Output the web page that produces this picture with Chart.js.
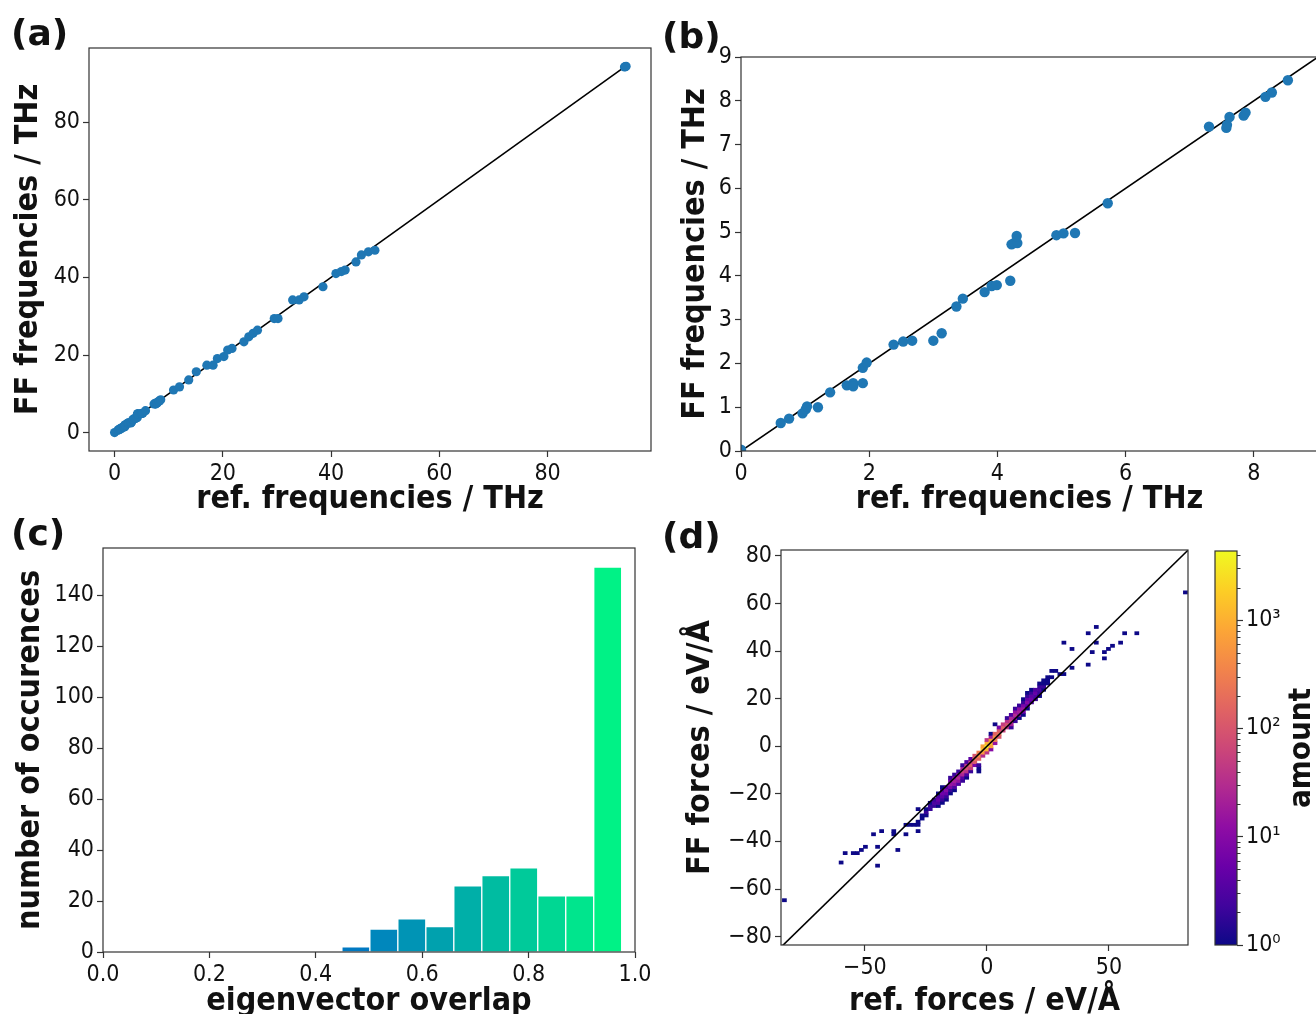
<!DOCTYPE html>
<html><head><meta charset="utf-8"><title>Force field validation</title>
<script src="https://cdn.jsdelivr.net/npm/chart.js@4.4.1/dist/chart.umd.min.js"></script>
<style>
html,body{margin:0;padding:0;background:#fff;overflow:hidden;}
body{position:relative;width:1316px;height:1014px;}
canvas{position:absolute;}
.lab{position:absolute;font-family:'DejaVu Sans',sans-serif;font-weight:bold;font-size:36px;line-height:1;color:#111;}
</style></head><body>
<canvas id="ca" width="660" height="480" style="left:0;top:40px"></canvas>
<canvas id="cb" width="680" height="480" style="left:660px;top:40px"></canvas>
<canvas id="cc" width="660" height="510" style="left:0;top:530px"></canvas>
<canvas id="cd" width="540" height="510" style="left:660px;top:530px"></canvas>
<canvas id="ce" width="116" height="484" style="left:1200px;top:530px"></canvas>
<div class="lab" style="left:11px;top:15px">(a)</div>
<div class="lab" style="left:662px;top:18px">(b)</div>
<div class="lab" style="left:11px;top:515px">(c)</div>
<div class="lab" style="left:662px;top:518px">(d)</div>
<script>
// ---------------- data ----------------
const refFreq = [0.00,0.62,0.75,0.96,1.01,1.03,1.20,1.39,1.65,1.75,1.75,1.90,1.90,1.96,2.38,2.53,2.67,3.00,3.13,3.36,3.46,3.80,3.91,3.99,4.20,4.22,4.26,4.31,4.30,4.92,5.03,5.21,5.72,7.30,7.57,7.58,7.62,7.84,7.87,8.18,8.28,8.53,
  10.9,12.0,13.7,15.1,17.05,18.2,19.0,20.2,20.9,21.7,23.9,24.8,25.6,26.4,29.5,30.2,32.9,34.1,35.0,38.5,40.9,41.9,42.6,44.6,45.6,46.9,48.1,94.2,94.35,94.5];
const ffFreq = [0.03,0.64,0.74,0.86,0.95,1.02,1.00,1.34,1.50,1.55,1.48,1.55,1.90,2.02,2.43,2.50,2.52,2.52,2.69,3.30,3.48,3.63,3.77,3.79,3.89,4.72,4.75,4.75,4.91,4.93,4.97,4.98,5.66,7.41,7.38,7.45,7.63,7.66,7.73,8.09,8.19,8.47,
  11.0,11.8,13.6,15.7,17.4,17.4,19.1,19.6,21.3,21.7,23.4,24.7,25.6,26.4,29.4,29.4,34.2,34.2,35.0,37.6,41.0,41.5,41.9,44.0,45.8,46.6,47.0,94.2,94.3,94.4];
const freqDiag = [0, 94.3];
const freqTicksA = [0,20,40,60,80];
const freqTicksBx = [0,2,4,6,8];
const freqTicksBy = [0,1,2,3,4,5,6,7,8,9];

const overlapEdges = [0.449,0.5016,0.5542,0.6068,0.6594,0.712,0.7646,0.8172,0.8698,0.9224,0.975];
const overlapCounts = [2,9,13,10,26,30,33,22,22,151];
const overlapTicksX = [0,0.2,0.4,0.6,0.8,1.0];
const overlapTicksY = [0,20,40,60,80,100,120,140];

// 2D histogram of forces: column centres (ref), cell centres (FF) and counts
const forceBinW = 1.66, forceBinH = 1.32;
const forceColX = [-83.00,-59.76,-58.10,-54.78,-53.12,-51.46,-49.80,-46.48,-44.82,-43.16,-38.18,-36.52,-33.20,-31.54,-29.88,-28.22,-26.56,-24.90,-23.24,-21.58,-19.92,-18.26,-16.60,-14.94,-13.28,-11.62,-9.96,-8.30,-6.64,-4.98,-3.32,-1.66,0,1.66,3.32,4.98,6.64,8.30,9.96,11.62,13.28,14.94,16.60,18.26,19.92,21.58,23.24,24.90,26.56,28.22,29.88,31.54,34.86,41.50,43.16,44.82,48.14,49.80,51.46,54.78,56.44,61.42,81.34];
const forceColY = [
  [-64.68],[-48.84],[-44.88],[-44.88],[-44.88],[-43.56],[-42.24],[-36.96],[-42.24,-50.16],[-35.64],
  [-35.64,-36.96],[-43.56],[-36.96,-33.00],[-33.00],[-33.00],[-35.64,-33.00,-31.68,-26.40],[-30.36,-29.04],
  [-29.04,-27.72,-26.40],[-26.40,-25.08,-23.76],[-25.08,-23.76,-22.44],[-25.08,-23.76,-22.44,-21.12,-19.80],
  [-23.76,-22.44,-21.12,-19.80,-18.48,-17.16],[-22.44,-21.12,-19.80,-18.48,-17.16],[-19.80,-18.48,-17.16,-15.84,-14.52,-13.20],
  [-18.48,-17.16,-15.84,-14.52,-13.20,-11.88],[-15.84,-14.52,-13.20,-11.88,-10.56],[-14.52,-13.20,-11.88,-10.56,-9.24,-7.92],
  [-13.20,-11.88,-10.56,-9.24,-7.92,-6.60],[-10.56,-9.24,-7.92,-6.60,-5.28],[-7.92,-6.60,-5.28,-3.96],
  [-10.56,-9.24,-7.92,-5.28,-3.96,-2.64],[-3.96,-2.64,-1.32,0],[-2.64,-1.32,0,1.32,2.64],
  [-1.32,0,1.32,2.64,3.96,5.28],[1.32,2.64,3.96,5.28,9.24],[3.96,5.28,6.60,7.92],[6.60,7.92,9.24],
  [7.92,9.24,10.56,11.88],[7.92,9.24,10.56,11.88,13.20],[10.56,11.88,13.20,14.52,15.84],[11.88,13.20,14.52,15.84,17.16],
  [13.20,14.52,15.84,17.16,18.48,19.80],[15.84,17.16,18.48,19.80,21.12,22.44],[18.48,19.80,21.12,22.44,23.76],[19.80,21.12,22.44,23.76],
  [21.12,22.44,23.76,25.08,26.40],[23.76,25.08,26.40,27.72],[26.40,27.72,29.04],[29.04,31.68],[31.68],[30.36],
  [30.36,43.56],[33.00,40.92],[34.32,47.52],[39.60],[43.56,50.16],[36.96,39.60],[40.92],[42.24],[43.56],[47.52],[47.52],[64.68]
];
const forceColN = [
  [1],[1],[1],[1],[1],[1],[1],[1],[1,1],[1],
  [1,1],[1],[1,1],[1],[1],[1,1,1,1],[1,1],
  [1,2,1],[2,2,1],[2,3,2],[1,3,5,3,1],
  [1,2,4,6,3,1],[1,2,5,10,4],[1,2,8,15,6,2],
  [1,3,12,22,10,2],[3,14,30,15,2],[2,4,25,55,20,2],
  [1,3,35,90,40,3],[2,50,140,60,4],[8,120,230,100],
  [1,1,2,150,450,300],[30,600,1400,700],[40,1000,4300,1000,40],
  [10,700,1400,600,20,1],[15,300,450,150,1],[100,230,120,8],[60,140,50],
  [40,90,35,2],[2,20,55,25,3],[2,15,30,14,2],[1,10,22,12,2],
  [1,6,15,8,2,1],[1,4,10,5,2,1],[3,6,4,2,1],[2,3,5,3],
  [1,2,3,2,1],[1,2,1,1],[1,1,1],[1,1],[1],[1],
  [1,1],[1,1],[1,1],[1],[1,1],[1,1],[1],[1],[1],[1],[1],[1]
];
const forceDiag = [-90, 90];
const forceTicksX = [-50,0,50];
const forceTicksY = [-80,-60,-40,-20,0,20,40,60,80];
const amountMin = 1, amountMax = 4350;
const amountTicks = [1,10,100,1000];
const amountLabels = ['10\u2070','10\u00b9','10\u00b2','10\u00b3'];

// ---------------- helpers ----------------
const FONT = "'DejaVu Sans Condensed','Liberation Sans Narrow','DejaVu Sans',sans-serif";
Chart.defaults.font.family = FONT;
Chart.defaults.color = '#111';
Chart.defaults.animation = false;
Chart.defaults.plugins.legend.display = false;
Chart.defaults.plugins.tooltip.enabled = false;

const PLASMA = ['#0d0887','#41049d','#6a00a8','#8f0da4','#b12a90','#cc4778','#e16462','#f2844b','#fca636','#fcce25','#f0f921'];
function hex2rgb(h){return [parseInt(h.slice(1,3),16),parseInt(h.slice(3,5),16),parseInt(h.slice(5,7),16)];}
function plasma(t){
  t = Math.max(0, Math.min(1, t));
  const s = t*(PLASMA.length-1), i = Math.min(PLASMA.length-2, Math.floor(s)), f = s-i;
  const a = hex2rgb(PLASMA[i]), b = hex2rgb(PLASMA[i+1]);
  return 'rgb('+a.map((v,k)=>Math.round(v+(b[k]-v)*f)).join(',')+')';
}
function winter(v){ return 'rgb(0,'+Math.round(255*v)+','+Math.round(255*(1-0.5*v))+')'; }
const minus = v => (v < 0 ? '\u2212' : '') + Math.abs(v);

const framePlugin = {
  id:'frame',
  afterDraw(chart){
    const {ctx, chartArea:a} = chart;
    ctx.save(); ctx.strokeStyle='#333'; ctx.lineWidth=1.2;
    ctx.strokeRect(a.left, a.top, a.right-a.left, a.bottom-a.top); ctx.restore();
  }
};
function zeroPad(s){ s.paddingTop = 0; s.paddingBottom = 0; s.paddingLeft = 0; s.paddingRight = 0; }

function axis(o){
  return {
    type:o.type||'linear', position:o.position, min:o.min, max:o.max, offset:false,
    afterBuildTicks: s => { s.ticks = o.ticks.map(v => ({value:v})); },
    afterFit: s => { if (o.position==='bottom') s.height = o.size; else s.width = o.size; zeroPad(s); },
    grid:{display:true, drawOnChartArea:false, drawTicks:true, tickLength:6, tickWidth:1.2, tickColor:'#333', offset:false},
    border:{display:false},
    ticks:{autoSkip:false, maxRotation:0, minRotation:0, padding:3, color:'#111', font:{size:23}, callback:o.fmt||minus},
    title:{display:!!o.title, text:o.title, color:'#111', font:{size:32, weight:'bold'},
      padding: o.position==='bottom' ? {top:0,bottom:o.tpad} : {top:o.tpad,bottom:0}}
  };
}

const freqPoints = refFreq.map((r,i)=>({x:r, y:ffFreq[i]}));
function freqChart(id, pad, xo, yo, rad){
  return new Chart(document.getElementById(id), {
    type:'scatter',
    data:{datasets:[
      {type:'scatter', data:freqPoints, pointRadius:rad, pointHoverRadius:rad, backgroundColor:'#1f77b4', borderWidth:0, order:0},
      {type:'line', data:freqDiag.map(v=>({x:v,y:v})), borderColor:'#000', borderWidth:1.6, pointRadius:0, fill:false, order:1}
    ]},
    options:{responsive:false, layout:{padding:pad}, scales:{x:axis(xo), y:axis(yo)}},
    plugins:[framePlugin]
  });
}

// (a)
freqChart('ca', {top:8,right:9,left:0,bottom:0},
  {position:'bottom', min:-4.72, max:99.1, ticks:freqTicksA, size:69, title:'ref. frequencies / THz', tpad:1},
  {position:'left', min:-4.72, max:99.1, ticks:freqTicksA, size:89, title:'FF frequencies / THz', tpad:9}, 4.6);
// (b)
freqChart('cb', {top:17,right:22,left:0,bottom:0},
  {position:'bottom', min:0, max:9, ticks:freqTicksBx, size:69, title:'ref. frequencies / THz', tpad:1},
  {position:'left', min:0, max:9, ticks:freqTicksBy, size:81, title:'FF frequencies / THz', tpad:16}, 5.2);

// (c)
const overlapCenters = overlapCounts.map((c,i)=>(overlapEdges[i]+overlapEdges[i+1])/2);
new Chart(document.getElementById('cc'), {
  type:'bar',
  data:{datasets:[{data:overlapCounts.map((c,i)=>({x:overlapCenters[i], y:c})),
    backgroundColor:overlapCenters.map(winter), borderColor:'#ffffff', borderWidth:1,
    barPercentage:1, categoryPercentage:1}]},
  options:{responsive:false, layout:{padding:{top:18,right:25,left:0,bottom:0}},
    scales:{
      x:axis({position:'bottom', min:0, max:1, ticks:overlapTicksX, size:88, title:'eigenvector overlap', tpad:19, fmt:v=>v.toFixed(1)}),
      y:axis({position:'left', min:0, max:158.5, ticks:overlapTicksY, size:103, title:'number of occurences', tpad:11})
    }},
  plugins:[framePlugin]
});

// (d)
const cells = [], cellColors = [];
forceColX.forEach((x,i)=>{
  forceColY[i].forEach((y,j)=>{
    const n = forceColN[i][j];
    cells.push({x:x, y:[y-forceBinH/2, y+forceBinH/2]});
    cellColors.push(plasma(Math.log10(n)/Math.log10(amountMax)));
  });
});
new Chart(document.getElementById('cd'), {
  type:'bar',
  data:{datasets:[
    {type:'bar', data:cells, backgroundColor:cellColors, borderWidth:0, barPercentage:1, categoryPercentage:1, order:1},
    {type:'line', data:forceDiag.map(v=>({x:v,y:v})), borderColor:'#000', borderWidth:1.6, pointRadius:0, fill:false, order:0}
  ]},
  options:{responsive:false, layout:{padding:{top:20,right:12,left:0,bottom:0}},
    scales:{
      x:axis({position:'bottom', min:-84.4, max:82.4, ticks:forceTicksX, size:95, title:'ref. forces / eV/\u00c5', tpad:19}),
      y:axis({position:'left', min:-83.5, max:82.5, ticks:forceTicksY, size:121, title:'FF forces / eV/\u00c5', tpad:21})
    }},
  plugins:[framePlugin]
});

// colour bar
const amountMinor = [];
[1,10,100,1000].forEach(d=>{ for(let m=2;m<=9;m++){ if(m*d<=amountMax) amountMinor.push(m*d); } });
const cbarPlugin = {
  id:'cbar',
  beforeDatasetsDraw(chart){
    const {ctx, chartArea:a} = chart;
    const g = ctx.createLinearGradient(0, a.bottom, 0, a.top);
    PLASMA.forEach((c,i)=>g.addColorStop(i/(PLASMA.length-1), c));
    ctx.save(); ctx.fillStyle = g; ctx.fillRect(a.left, a.top, a.right-a.left, a.bottom-a.top); ctx.restore();
  },
  afterDraw(chart){
    const {ctx, chartArea:a, scales:{y}} = chart;
    ctx.save();
    ctx.strokeStyle='#333'; ctx.lineWidth=1;
    amountMinor.forEach(v=>{ const py = Math.round(y.getPixelForValue(v))+0.5; ctx.beginPath(); ctx.moveTo(a.right, py); ctx.lineTo(a.right+3.5, py); ctx.stroke(); });
    ctx.lineWidth=1.2; ctx.strokeRect(a.left, a.top, a.right-a.left, a.bottom-a.top);
    ctx.translate(102, 218); ctx.rotate(-Math.PI/2);
    ctx.font = 'bold 31px '+FONT; ctx.textAlign='center'; ctx.textBaseline='middle'; ctx.fillStyle='#111';
    ctx.fillText('amount', 0, 0);
    ctx.restore();
  }
};
new Chart(document.getElementById('ce'), {
  type:'scatter',
  data:{datasets:[{data:[]}]},
  options:{responsive:false, layout:{padding:{top:21,right:0,left:15,bottom:69}},
    scales:{
      x:{display:false, min:0, max:1},
      y:{type:'logarithmic', position:'right', min:amountMin, max:amountMax,
        afterBuildTicks: s => { s.ticks = amountTicks.map(v=>({value:v})); },
        afterFit: s => { s.width = 79; zeroPad(s); },
        grid:{display:true, drawOnChartArea:false, drawTicks:true, tickLength:6, tickWidth:1.2, tickColor:'#333'},
        border:{display:false},
        ticks:{autoSkip:false, padding:3, color:'#111', font:{size:23}, callback:(v,i)=>amountLabels[i]}
      }
    }},
  plugins:[cbarPlugin]
});
</script>
</body></html>
